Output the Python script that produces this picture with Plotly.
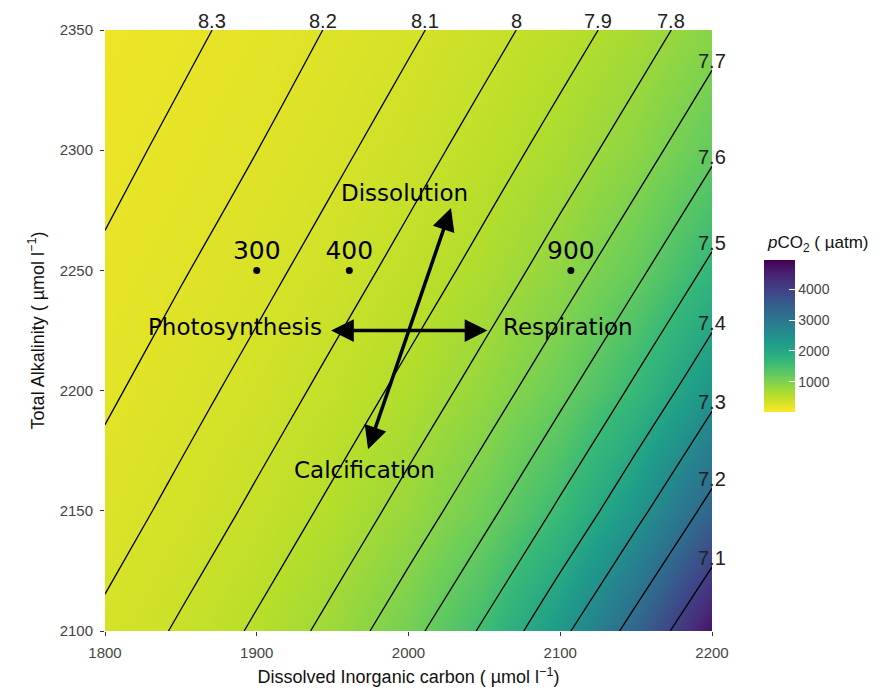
import numpy as np
import plotly.graph_objects as go

# ---- data ----
dic_grid = [1800, 1850, 1900, 1950, 2000, 2050, 2100, 2150, 2200]
ta_grid = [2100, 2150, 2200, 2250, 2300, 2350]

# pH field (rows: TA ascending, cols: DIC ascending)
ph_grid = [
    [8.077, 7.985, 7.883, 7.766, 7.632, 7.484, 7.322, 7.166, 7.019],
    [8.152, 8.069, 7.978, 7.876, 7.760, 7.629, 7.482, 7.325, 7.171],
    [8.219, 8.142, 8.060, 7.970, 7.869, 7.755, 7.625, 7.480, 7.327],
    [8.281, 8.209, 8.134, 8.052, 7.963, 7.863, 7.750, 7.622, 7.478],
    [8.338, 8.270, 8.201, 8.126, 8.044, 7.955, 7.856, 7.746, 7.619],
    [8.393, 8.328, 8.260, 8.191, 8.118, 8.037, 7.949, 7.851, 7.741],
]

# pCO2 field (uatm)
pco2_grid = [
    [328, 425, 562, 767, 1082, 1567, 2323, 3366, 4731],
    [270, 344, 444, 587, 798, 1117, 1613, 2363, 3407],
    [226, 284, 361, 465, 613, 828, 1155, 1659, 2407],
    [192, 239, 299, 378, 486, 637, 859, 1192, 1705],
    [164, 203, 251, 313, 396, 508, 664, 888, 1228],
    [141, 173, 214, 264, 328, 413, 528, 688, 919],
]

ph_levels = [8.3, 8.2, 8.1, 8.0, 7.9, 7.8, 7.7, 7.6, 7.5, 7.4, 7.3, 7.2, 7.1]

point_labels = ["300", "400", "900"]
point_dic = [1900, 1961, 2107]
point_ta = [2250, 2250, 2250]

# double-headed arrows: (start DIC, start TA, end DIC, end TA)
arrow_x0 = [1948, 1973]
arrow_y0 = [2225, 2175]
arrow_x1 = [2052, 2028]
arrow_y1 = [2225, 2276]

process_labels = ["Dissolution", "Photosynthesis", "Respiration", "Calcification"]
process_dic = [1997.5, 1885.7, 2105.3, 1971.3]
process_ta = [2282, 2226.3, 2226.3, 2167]

cbar_ticks = [1000, 2000, 3000, 4000]

W, H = 889, 690
L, R, T, B = 105, 712, 30, 631  # plot area in pixels
AX_FONT = "Liberation Sans, Arial, sans-serif"
IN_FONT = "DejaVu Sans, Verdana, sans-serif"

fig = go.Figure()

fig.add_trace(go.Heatmap(
    x=dic_grid, y=ta_grid, z=pco2_grid,
    colorscale="Viridis", reversescale=True,
    zmin=25, zmax=4975, zsmooth="best",
    hoverinfo="skip",
    colorbar=dict(
        xref="container", yref="container",
        x=764 / W, xanchor="left",
        y=1 - 298 / H, yanchor="top",
        thickness=31, thicknessmode="pixels",
        len=152, lenmode="pixels",
        xpad=0, ypad=0, outlinewidth=0,
        tickvals=cbar_ticks, ticks="inside", ticklen=6, tickcolor="white",
        tickfont=dict(family=AX_FONT, size=14, color="#444"),
    ),
))

fig.add_trace(go.Contour(
    x=dic_grid, y=ta_grid, z=ph_grid,
    autocontour=False,
    contours=dict(start=min(ph_levels), end=max(ph_levels), size=0.1,
                  coloring="lines", showlabels=False),
    colorscale=[[0, "black"], [1, "black"]],
    line=dict(width=1.3),
    showscale=False, hoverinfo="skip",
))

fig.add_trace(go.Scatter(
    x=point_dic, y=point_ta, mode="markers+text",
    text=point_labels, textposition="top center",
    textfont=dict(family=IN_FONT, size=25, color="black"),
    marker=dict(size=7, color="black"),
    hoverinfo="skip", showlegend=False,
))

annotations = []
# contour labels at line ends
top_row = np.array(ph_grid[-1])
right_col = np.array([r[-1] for r in ph_grid])
for lvl in ph_levels:
    txt = f"{lvl:g}"
    if top_row.min() <= lvl <= top_row.max():
        xe = float(np.interp(lvl, top_row[::-1], np.array(dic_grid)[::-1]))
        ye = ta_grid[-1]
    else:
        xe = dic_grid[-1]
        ye = float(np.interp(lvl, right_col, np.array(ta_grid)))
    annotations.append(dict(
        x=xe, y=ye, xref="x", yref="y", text=txt, showarrow=False,
        xanchor="center", yanchor="middle", yshift=9,
        font=dict(family=AX_FONT, size=20, color="#222"),
    ))

for x0, y0, x1, y1 in zip(arrow_x0, arrow_y0, arrow_x1, arrow_y1):
    annotations.append(dict(
        x=x1, y=y1, ax=x0, ay=y0, xref="x", yref="y", axref="x", ayref="y",
        text="", showarrow=True, arrowside="end+start",
        arrowhead=2, startarrowhead=2, arrowsize=1.3, startarrowsize=1.3,
        arrowwidth=3.5, arrowcolor="black", standoff=0, startstandoff=0,
    ))

for t, x, y in zip(process_labels, process_dic, process_ta):
    annotations.append(dict(
        x=x, y=y, xref="x", yref="y", text=t, showarrow=False,
        xanchor="center", yanchor="middle",
        font=dict(family=IN_FONT, size=23, color="black"),
    ))

# legend title (paper coords relative to plot area)
annotations.append(dict(
    x=(765 - L) / (R - L), y=(B - 244) / (B - T), xref="paper", yref="paper",
    text="<i>p</i>CO<sub>2</sub> ( µatm)", showarrow=False,
    xanchor="left", yanchor="middle",
    font=dict(family=AX_FONT, size=17, color="#111"),
))

fig.update_layout(
    width=W, height=H,
    margin=dict(l=L, r=W - R, t=T, b=H - B, autoexpand=False),
    paper_bgcolor="white", plot_bgcolor="white",
    showlegend=False,
    annotations=annotations,
    xaxis=dict(
        range=[1800, 2200], tickvals=[1800, 1900, 2000, 2100, 2200],
        ticks="outside", ticklen=4, tickcolor="#333", tickwidth=1,
        showgrid=False, zeroline=False, showline=False, automargin=False,
        tickfont=dict(family=AX_FONT, size=15, color="#444"),
        ticklabelstandoff=4,
        title=dict(text="Dissolved Inorganic carbon ( µmol l<sup>−1</sup>)",
                   font=dict(family=AX_FONT, size=18, color="#111"), standoff=10),
    ),
    yaxis=dict(
        range=[2100, 2350], tickvals=[2100, 2150, 2200, 2250, 2300, 2350],
        ticks="outside", ticklen=4, tickcolor="#333", tickwidth=1,
        showgrid=False, zeroline=False, showline=False, automargin=False,
        tickfont=dict(family=AX_FONT, size=15, color="#444"),
        ticklabelstandoff=4,
        title=dict(text="Total Alkalinity ( µmol l<sup>−1</sup>)",
                   font=dict(family=AX_FONT, size=18, color="#111"), standoff=10),
    ),
)

fig.write_html("out.html", config={"displayModeBar": False},
               post_script="document.body.style.margin='0px';")
